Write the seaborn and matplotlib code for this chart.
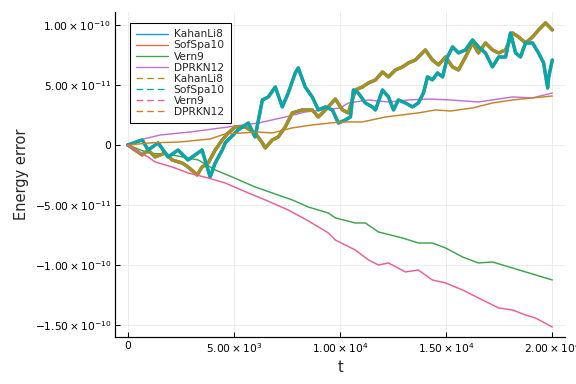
import numpy as np
import pandas as pd
import matplotlib
matplotlib.use("Agg")
import matplotlib.pyplot as plt
from matplotlib.lines import Line2D
import seaborn as sns

# ---- data (energy error in units of 1e-11) ----
t_kahan = [0, 340, 680, 960, 1290, 1760, 2090, 2560, 2840, 3270, 3500, 3790, 4120, 4450, 4730,
           5060, 5530, 6000, 6340, 6480, 6810, 7090, 7420, 7750, 8220, 8690, 8980, 9310, 9780,
           10110, 10390, 10720, 11050, 11340, 11670, 12000, 12280, 12610, 12940, 13220, 13550,
           13880, 14020, 14350, 14640, 14970, 15300, 15580, 15910, 16240, 16520, 16850, 17180,
           17470, 17800, 18130, 18410, 18740, 19070, 19350, 19680, 20000]
e_kahan = [0, -0.42, -0.83, -0.42, -1.0, -0.67, -1.25, -1.5, -1.83, -2.5, -1.83, -1.5, -0.42, 0.42,
           1.0, 1.5, 1.5, 1.0, 0.17, -0.25, 0.42, 0.67, 1.5, 2.67, 2.92, 2.92, 2.33, 2.92, 3.83,
           2.92, 2.67, 4.58, 4.83, 5.17, 5.42, 6.08, 5.67, 6.25, 6.5, 6.83, 7.08, 7.67, 7.92, 7.08,
           6.67, 7.33, 6.5, 6.25, 7.33, 8.5, 7.67, 8.5, 7.92, 7.67, 7.92, 9.33, 9.0, 8.5, 9.0, 9.58,
           10.17, 9.58]

t_sofspa = [0, 680, 960, 1430, 1900, 2370, 2840, 3500, 3880, 4120, 4450, 4590, 5200, 5680, 6000,
            6340, 6620, 6950, 7280, 7560, 7890, 8030, 8360, 8690, 8980, 9310, 9640, 9920, 10250,
            10490, 10630, 10860, 11190, 11520, 11670, 12000, 12280, 12520, 12750, 13080, 13410,
            13690, 13930, 14120, 14350, 14590, 14830, 15060, 15300, 15580, 15910, 16240, 16520,
            16850, 17180, 17470, 17800, 18030, 18270, 18500, 18740, 19070, 19350, 19590, 19780,
            19830, 20000]
e_sofspa = [0, 0.42, -0.42, 0.17, -1.0, -0.42, -1.25, -0.42, -2.67, -1.5, -0.42, 0.17, 1.25, 1.83,
            0.67, 3.75, 4.0, 4.83, 3.17, 4.33, 6.0, 6.42, 4.83, 4.0, 2.92, 3.17, 2.92, 1.83, 2.08,
            2.33, 4.58, 4.33, 3.5, 3.17, 2.92, 4.58, 4.0, 2.92, 3.75, 3.5, 3.17, 3.5, 4.33, 5.67,
            5.42, 6.0, 5.67, 7.33, 8.17, 7.67, 7.92, 8.75, 8.17, 7.67, 6.5, 7.33, 7.33, 9.33, 7.67,
            7.33, 8.5, 8.5, 7.67, 6.83, 4.75, 5.67, 7.08]

t_vern9 = [0, 960, 2090, 3320, 4120, 4920, 6000, 6810, 7750, 8510, 9450, 9780, 10720, 11190, 11810,
           12940, 13690, 14350, 14970, 15770, 16520, 17180, 18130, 18740, 19210, 20000]
e_vern9 = [0, -0.67, -0.83, -1.25, -2.08, -2.67, -3.5, -4.0, -4.58, -5.17, -5.67, -6.08, -6.5, -6.5,
           -7.25, -7.75, -8.17, -8.17, -8.58, -9.33, -9.83, -9.75, -10.25, -10.58, -10.83, -11.25]

t_dprkn = [0, 580, 1520, 2940, 4730, 6150, 7420, 8360, 10010, 10390, 11340, 12280, 13220, 14170,
           15200, 16520, 18130, 19070, 20000]
e_dprkn = [0, 0.42, 0.83, 1.08, 1.5, 1.83, 2.33, 2.75, 3.08, 3.5, 3.75, 3.58, 3.75, 3.83, 3.75,
           3.58, 4.0, 3.92, 4.33]

t_vern9_b = [0, 490, 960, 1290, 2090, 2840, 3790, 4590, 5680, 6480, 7560, 8510, 9450, 9780, 10720,
             11340, 11810, 12280, 13080, 13690, 14350, 14970, 15770, 16520, 17470, 18130, 18740,
             19210, 20000]
e_vern9_b = [0, -0.58, -1.0, -1.42, -1.83, -2.33, -2.75, -3.17, -4.0, -4.58, -5.42, -6.33, -7.33,
             -7.92, -8.75, -9.58, -10.0, -9.83, -10.58, -10.42, -11.25, -11.5, -12.08, -12.75,
             -13.58, -13.75, -14.17, -14.42, -15.17]

t_dprkn_b = [0, 1050, 2470, 3880, 4590, 6150, 6810, 7750, 8690, 10010, 11050, 12140, 13690, 14500,
             15200, 16240, 17180, 18130, 19070, 20000]
e_dprkn_b = [0, 0.17, 0.25, 0.5, 0.92, 1.08, 1.0, 1.42, 1.67, 1.92, 1.92, 2.33, 2.67, 2.92, 2.83,
             3.08, 3.5, 3.75, 3.92, 4.08]

labels = ["KahanLi8", "SofSpa10", "Vern9", "DPRKN12", "KahanLi8", "SofSpa10", "Vern9", "DPRKN12"]
series_t = [t_kahan, t_sofspa, t_vern9, t_dprkn, t_kahan, t_sofspa, t_vern9_b, t_dprkn_b]
series_e = [e_kahan, e_sofspa, e_vern9, e_dprkn, e_kahan, e_sofspa, e_vern9_b, e_dprkn_b]
unit = 1e-11

xticks = [0, 5000, 10000, 15000, 20000]
xticklabels = ["0", r"$5.00\times10^{3}$", r"$1.00\times10^{4}$", r"$1.50\times10^{4}$", r"$2.00\times10^{4}$"]
yticks = [-1.5e-10, -1.0e-10, -5e-11, 0, 5e-11, 1.0e-10]
yticklabels = [r"$-1.50\times10^{-10}$", r"$-1.00\times10^{-10}$", r"$-5.00\times10^{-11}$", "0",
               r"$5.00\times10^{-11}$", r"$1.00\times10^{-10}$"]

# ---- style ----
colors = ["#009AFA", "#E36F47", "#3EA44E", "#C271D2", "#AC8E18", "#00A9AD", "#ED5E93", "#C68225"]
widths = [2.5, 2.5, 1.1, 1.1, 2.5, 2.5, 1.1, 1.1]
dashed = [False, False, False, False, True, True, True, True]

sns.set_theme(style="white")
plt.rcParams["font.family"] = ["DejaVu Sans"]
plt.rcParams["mathtext.fontset"] = "dejavusans"

fig = plt.figure(figsize=(6, 4), dpi=96)
ax = fig.add_axes([0.1997, 0.1224, 0.7813, 0.8464])

for i, (lab, tt, ee) in enumerate(zip(labels, series_t, series_e)):
    df = pd.DataFrame({"t": tt, "err": np.asarray(ee) * unit})
    sns.lineplot(data=df, x="t", y="err", ax=ax, color=colors[i], linewidth=widths[i],
                 estimator=None, sort=False, legend=False)

ax.set_xlim(-600, 20600)
ax.set_ylim(-1.6e-10, 1.108e-10)
ax.set_xticks(xticks, labels=xticklabels)
ax.set_yticks(yticks, labels=yticklabels)
ax.tick_params(axis="both", direction="in", length=4, width=0.8, labelsize=8, colors="black",
               bottom=True, left=True, pad=3)
ax.grid(True, color="#e9e9e9", linewidth=0.6)
ax.set_axisbelow(True)
for s in ["top", "right"]:
    ax.spines[s].set_visible(False)
for s in ["left", "bottom"]:
    ax.spines[s].set_color("black")
    ax.spines[s].set_linewidth(0.9)

ax.set_xlabel("t", fontsize=11)
ax.set_ylabel("Energy error", fontsize=11)

handles = [Line2D([0], [0], color=colors[i], linewidth=1.0,
                  linestyle=(0, (5, 3)) if dashed[i] else "-") for i in range(len(labels))]
leg = ax.legend(handles, labels, loc="upper left", bbox_to_anchor=(0.033, 0.966),
                borderaxespad=0, fontsize=8, frameon=True, fancybox=False, framealpha=1,
                edgecolor="black", handlelength=3.0, handletextpad=0.5, labelspacing=0.1,
                borderpad=0.6)
leg.get_frame().set_linewidth(0.8)

fig.savefig("out.png", dpi=96)
